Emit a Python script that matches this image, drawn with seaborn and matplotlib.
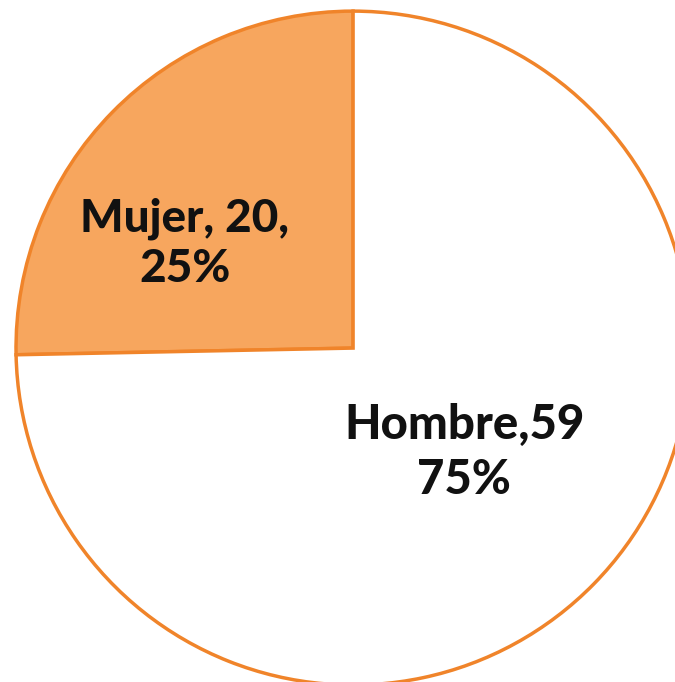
import matplotlib.pyplot as plt
import seaborn as sns

# data
categories = ["Mujer", "Hombre"]
counts = [20, 59]
percent_labels = ["25%", "75%"]

sns.set_style("white")
plt.rcParams["font.family"] = ["Lato", "DejaVu Sans"]

fill_colors = ["#F7A65E", "#FFFFFF"]
edge_color = "#F0842A"

fig = plt.figure(figsize=(6.75, 6.82), dpi=100)
ax = fig.add_axes([0, 0, 1, 1])

wedges, _ = ax.pie(
    counts,
    colors=fill_colors,
    startangle=90,
    counterclock=True,
    radius=1.0,
    wedgeprops=dict(edgecolor=edge_color, linewidth=2.5),
)

# labels placed inside the slices, like the original
ax.text(-0.50, 0.31, f"{categories[0]}, {counts[0]},\n{percent_labels[0]}",
        ha="center", va="center", fontsize=33, fontweight="black",
        linespacing=1.22, color="#111111")
ax.text(0.33, -0.31, f"{categories[1]},{counts[1]}\n{percent_labels[1]}",
        ha="center", va="center", fontsize=34, fontweight="black",
        linespacing=1.3, color="#111111")

# centre at (353, 348) px, radius ~337 px
ax.set_xlim(-1.0475, 0.955)
ax.set_ylim(-0.991, 1.033)
ax.set_aspect("auto")
ax.axis("off")

fig.savefig("out.png", dpi=100)
